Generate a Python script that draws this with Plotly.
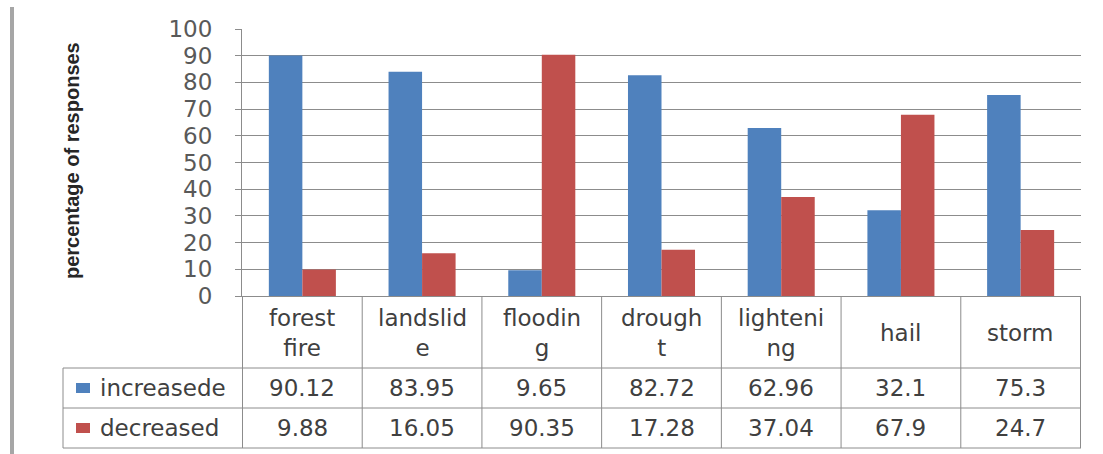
import plotly.graph_objects as go

# ---- data ----
categories = ["forest fire", "landslide", "flooding", "drought", "lightening", "hail", "storm"]
header_labels = ["forest<br>fire", "landslid<br>e", "floodin<br>g", "drough<br>t", "lighteni<br>ng", "hail", "storm"]
series_names = ["increasede", "decreased"]
increased = [90.12, 83.95, 9.65, 82.72, 62.96, 32.1, 75.3]
decreased = [9.88, 16.05, 90.35, 17.28, 37.04, 67.9, 24.7]
y_ticks = [0, 10, 20, 30, 40, 50, 60, 70, 80, 90, 100]

BLUE = "#4F81BD"
RED = "#C0504D"
W, H = 1103, 454
GRID = "#8C8C8C"
TXT = "#404040"
FONT = "DejaVu Sans"
FS = 23


def px(x):
    return x / W


def py(y):
    return 1 - y / H


fig = go.Figure()
fig.add_trace(go.Bar(x=categories, y=increased, name=series_names[0],
                     marker=dict(color=BLUE, line=dict(width=0))))
fig.add_trace(go.Bar(x=categories, y=decreased, name=series_names[1],
                     marker=dict(color=RED, line=dict(width=0))))

# plot area in pixels
PL, PR, PT, PB = 242, 1081, 29, 296
# data table rows
ROW1, ROW2, ROW3 = 368, 408, 448
LEG_L = 63

shapes = []
line = dict(color=GRID, width=1)
# table horizontal rules
for yy in (ROW1, ROW2, ROW3):
    shapes.append(dict(type="line", xref="paper", yref="paper",
                       x0=px(LEG_L), x1=px(PR), y0=py(yy), y1=py(yy), line=line))
# table column rules (category boundaries)
for i in range(len(categories) + 1):
    shapes.append(dict(type="line", xref="x", yref="paper",
                       x0=i - 0.5, x1=i - 0.5, y0=py(PB), y1=py(ROW3), line=line))
# legend column left edge
shapes.append(dict(type="line", xref="paper", yref="paper",
                   x0=px(LEG_L), x1=px(LEG_L), y0=py(ROW1), y1=py(ROW3), line=line))
# legend keys
for yc, col in ((388, BLUE), (428, RED)):
    shapes.append(dict(type="rect", xref="paper", yref="paper",
                       x0=px(76), x1=px(90), y0=py(yc - 5), y1=py(yc + 5),
                       fillcolor=col, line=dict(width=0)))
# frame edge at the left of the page
shapes.append(dict(type="line", xref="paper", yref="paper",
                   x0=px(12), x1=px(12), y0=py(7), y1=py(454),
                   line=dict(color="#A6A6A6", width=4)))

annotations = []
# header row: category labels
for i, lab in enumerate(header_labels):
    annotations.append(dict(x=i, xref="x", y=py(333), yref="paper", text=lab,
                            showarrow=False, xanchor="center", yanchor="middle",
                            font=dict(family=FONT, size=FS, color=TXT)))
# value rows
for vals, yc in ((increased, 388), (decreased, 428)):
    for i, v in enumerate(vals):
        annotations.append(dict(x=i, xref="x", y=py(yc), yref="paper", text=f"{v:g}",
                                showarrow=False, xanchor="center", yanchor="middle",
                                font=dict(family=FONT, size=FS, color=TXT)))
# legend labels
for name, yc in zip(series_names, (388, 428)):
    annotations.append(dict(x=px(98), xref="paper", y=py(yc), yref="paper", text=name,
                            showarrow=False, xanchor="left", yanchor="middle",
                            font=dict(family=FONT, size=FS, color=TXT)))
# y axis title
annotations.append(dict(x=px(72), xref="paper", y=py(161), yref="paper",
                        text="<b>percentage of responses</b>", textangle=-90,
                        showarrow=False, xanchor="center", yanchor="middle",
                        font=dict(family="Liberation Sans", size=20, color="#262626")))

fig.update_layout(
    width=W, height=H,
    margin=dict(l=0, r=0, t=0, b=0, pad=0, autoexpand=False),
    paper_bgcolor="white", plot_bgcolor="white",
    barmode="group", bargap=0.44, bargroupgap=0,
    showlegend=False,
    shapes=shapes, annotations=annotations,
    xaxis=dict(domain=[px(PL), px(PR)], showticklabels=False, ticks="",
               showgrid=False, showline=True, linecolor=GRID, linewidth=1,
               zeroline=False, fixedrange=True, automargin=False),
    yaxis=dict(domain=[py(PB), py(PT)], range=[0, 100], tickvals=y_ticks,
               showgrid=True, gridcolor=GRID, gridwidth=1,
               showline=True, linecolor=GRID, linewidth=1,
               ticks="outside", ticklen=6, tickcolor=GRID,
               ticklabelstandoff=18,
               tickfont=dict(family=FONT, size=FS, color="#595959"),
               zeroline=False, fixedrange=True, automargin=False),
)

fig.write_html("out.html")
